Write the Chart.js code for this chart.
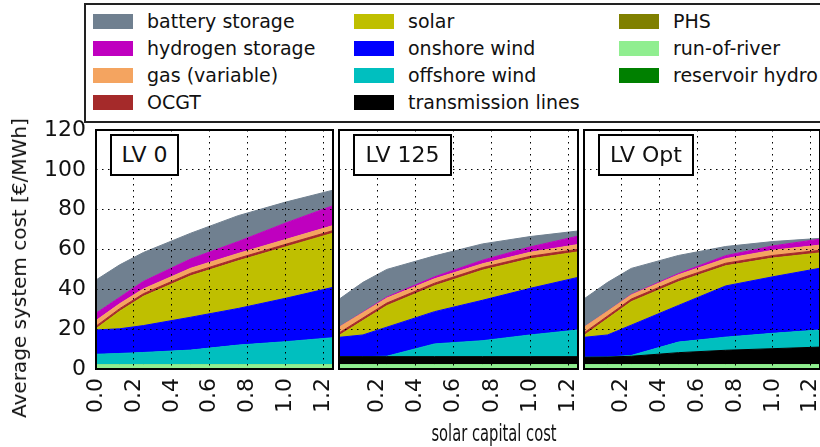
<!DOCTYPE html>
<html>
<head>
<meta charset="utf-8">
<script src="https://cdn.jsdelivr.net/npm/chart.js@4"></script>
<style>
  body { margin: 0; background: #fff; font-family: "DejaVu Sans", sans-serif; }
  #wrap { position: relative; width: 820px; height: 447px; overflow: hidden; }
  canvas { position: absolute; left: 0; top: 0; }
  .legend { position: absolute; left: 84px; top: 3px; width: 780px; height: 116px; border: 2px solid #222; background: #fff; }
  .item { position: absolute; font-size: 19px; line-height: 20px; white-space: nowrap; color: #111; }
  .sw { position: absolute; width: 40px; height: 15px; }
  .lv { position: absolute; border: 2px solid #000; background: #fff; font-size: 22px; text-align: center; box-sizing: border-box; line-height: 37px; color: #111; }
  .ytitle { position: absolute; left: 19px; top: 268px; transform: translate(-50%, -50%) rotate(-90deg); font-size: 20px; white-space: nowrap; color: #111; }
  .xtitle { position: absolute; left: 494px; top: 433px; transform: translate(-50%, -50%) scaleX(0.64); font-size: 23px; white-space: nowrap; color: #111; }
</style>
</head>
<body>
<div id="wrap">
  <canvas id="c0" width="820" height="447"></canvas>
  <canvas id="c1" width="820" height="447"></canvas>
  <canvas id="c2" width="820" height="447"></canvas>
  <div class="legend" id="legend"></div>
  <div class="ytitle">Average system cost [€/MWh]</div>
  <div class="xtitle">solar capital cost</div>
</div>
<script>
// x values: relative solar capital cost
const solarCost = [0, 0.125, 0.25, 0.5, 0.75, 1.0, 1.25];
const panelNames = ['LV 0', 'LV 125', 'LV Opt'];

// each tech: one row per panel (LV 0, LV 125, LV Opt), stacked bottom -> top
const runOfRiver = [
  [2.2, 2.2, 2.2, 2.2, 2.2, 2.2, 2.2],
  [2.2, 2.2, 2.2, 2.2, 2.2, 2.2, 2.2],
  [2.2, 2.2, 2.2, 2.2, 2.2, 2.2, 2.2]
];
const reservoirHydro = [
  [0, 0, 0, 0, 0, 0, 0],
  [0, 0, 0, 0, 0, 0, 0],
  [0, 0, 0, 0, 0, 0, 0]
];
const phs = [
  [0, 0, 0, 0, 0, 0, 0],
  [0, 0, 0, 0, 0, 0, 0],
  [0, 0, 0, 0, 0, 0, 0]
];
const transmission = [
  [0, 0, 0, 0, 0, 0, 0],
  [4.0, 4.0, 4.0, 4.0, 4.0, 4.0, 4.0],
  [3.7, 3.8, 4.2, 6.0, 7.2, 8.0, 8.8]
];
const offshore = [
  [5.2, 5.6, 6.1, 7.3, 9.8, 11.5, 13.5],
  [0, 0, 0.2, 6.4, 8.0, 10.9, 13.4],
  [0, 0, 0.4, 5.3, 6.6, 7.7, 8.6]
];
const onshore = [
  [12.2, 12.4, 13.5, 16.5, 18.4, 21.8, 25.3],
  [9.7, 10.9, 14.6, 16.2, 20.3, 23.4, 26.4],
  [10.0, 11.1, 15.2, 18.4, 25.7, 28.4, 31.0]
];
const solar = [
  [0.6, 8.8, 14.7, 20.8, 23.9, 25.8, 27.2],
  [0.9, 7.2, 10.8, 13.0, 15.1, 14.8, 12.8],
  [0.9, 8.2, 11.8, 11.9, 10.1, 9.4, 7.7]
];
const ocgt = [
  [1.3, 1.3, 1.3, 1.3, 1.3, 1.3, 1.3],
  [1.3, 1.3, 1.3, 1.3, 1.3, 1.3, 1.3],
  [1.3, 1.3, 1.3, 1.3, 1.3, 1.3, 1.3]
];
const gas = [
  [2.8, 2.5, 2.4, 2.5, 2.4, 2.4, 2.5],
  [2.9, 2.7, 2.5, 2.2, 1.9, 2.0, 2.4],
  [2.9, 2.4, 2.1, 2.2, 2.3, 2.6, 2.6]
];
const hydrogen = [
  [3.7, 3.2, 3.8, 4.7, 6.0, 8.3, 10.0],
  [0, 0.2, 0.5, 1.0, 1.8, 2.7, 4.2],
  [0, 0, 0.2, 0.6, 1.5, 2.2, 3.0]
];
const battery = [
  [16.7, 16.3, 14.5, 12.9, 13.0, 10.5, 7.8],
  [14.0, 15.0, 13.9, 10.5, 8.2, 5.2, 2.6],
  [14.2, 14.5, 13.1, 9.1, 4.6, 2.2, 0.4]
];

// stack order (bottom first)
const layers = [
  ['run-of-river', runOfRiver, '#90ee90'],
  ['reservoir hydro', reservoirHydro, '#008000'],
  ['PHS', phs, '#808000'],
  ['transmission lines', transmission, '#000000'],
  ['offshore wind', offshore, '#00bfbf'],
  ['onshore wind', onshore, '#0000ff'],
  ['solar', solar, '#bfbf00'],
  ['OCGT', ocgt, '#a52a2a'],
  ['gas (variable)', gas, '#f4a460'],
  ['hydrogen storage', hydrogen, '#bf00bf'],
  ['battery storage', battery, '#708090']
];

// legend columns as in the figure
const legendCols = [
  ['battery storage', 'hydrogen storage', 'gas (variable)', 'OCGT'],
  ['solar', 'onshore wind', 'offshore wind', 'transmission lines'],
  ['PHS', 'run-of-river', 'reservoir hydro']
];

const panelLeft = [96, 339, 584];
const panelRight = [333, 578, 821];
const plotTop = 130, plotBottom = 369;
const lvBoxes = [[110, 69], [353, 99], [598, 96]];

const legend = document.getElementById('legend');
const colorOf = {};
layers.forEach(l => colorOf[l[0]] = l[2]);
const swX = [7, 268, 533], txX = [61, 322, 587], rowY = [19, 46, 73, 100];
legendCols.forEach((col, c) => {
  col.forEach((name, r) => {
    const sw = document.createElement('div');
    sw.className = 'sw';
    sw.style.left = swX[c] + 'px';
    sw.style.top = (rowY[r] - 3 - 7.5) + 'px';
    sw.style.background = colorOf[name];
    legend.appendChild(sw);
    const t = document.createElement('div');
    t.className = 'item';
    t.style.left = txX[c] + 'px';
    t.style.top = (rowY[r] - 3 - 10) + 'px';
    t.textContent = name;
    legend.appendChild(t);
  });
});

const framePlugin = {
  id: 'frame',
  afterDraw(chart) {
    const a = chart.chartArea, ctx = chart.ctx;
    ctx.save();
    ctx.strokeStyle = '#000';
    ctx.lineWidth = 2;
    ctx.strokeRect(a.left, a.top, a.right - a.left, a.bottom - a.top);
    ctx.restore();
  }
};

function makePanel(i) {
  const datasets = layers.map((l, k) => ({
    label: l[0],
    data: l[1][i].map((v, j) => ({ x: solarCost[j], y: v })),
    backgroundColor: l[2],
    borderColor: l[2],
    borderWidth: 1,
    pointRadius: 0,
    tension: 0,
    fill: k === 0 ? 'origin' : '-1'
  }));
  const gridOpts = { color: '#000', lineWidth: 1, drawTicks: false, z: 1 };
  const yWidth = i === 0 ? panelLeft[0] : 0;
  new Chart(document.getElementById('c' + i), {
    type: 'line',
    data: { datasets },
    options: {
      responsive: false,
      animation: false,
      devicePixelRatio: 1,
      layout: { padding: { left: panelLeft[i] - yWidth, right: Math.max(0, 820 - panelRight[i]), top: plotTop, bottom: 0 } },
      plugins: { legend: { display: false }, tooltip: { enabled: false } },
      scales: {
        x: {
          type: 'linear', min: 0, max: 1.25,
          grid: gridOpts,
          border: { display: false, dash: [1.5, 4.5] },
          ticks: {
            stepSize: 0.2, includeBounds: false, autoSkip: false,
            minRotation: 90, maxRotation: 90, padding: 9, color: '#111',
            font: { family: 'DejaVu Sans', size: 22 },
            callback: v => (i > 0 && v === 0) ? '' : v.toFixed(1)
          },
          afterFit: s => { s.height = 447 - plotBottom; s.paddingLeft = 0; s.paddingRight = 0; }
        },
        y: {
          stacked: true, min: 0, max: 120,
          grid: gridOpts,
          border: { display: false, dash: [1.5, 4.5] },
          ticks: {
            display: i === 0, stepSize: 20, padding: 10, color: '#111',
            font: { family: 'DejaVu Sans', size: 22 }
          },
          afterFit: s => { s.width = yWidth; s.paddingTop = 0; s.paddingBottom = 0; }
        }
      }
    },
    plugins: [framePlugin]
  });

  const box = document.createElement('div');
  box.className = 'lv';
  box.style.left = lvBoxes[i][0] + 'px';
  box.style.top = '134px';
  box.style.width = lvBoxes[i][1] + 'px';
  box.style.height = '42px';
  box.textContent = panelNames[i];
  document.getElementById('wrap').appendChild(box);
}

[0, 1, 2].forEach(makePanel);
</script>
</body>
</html>
